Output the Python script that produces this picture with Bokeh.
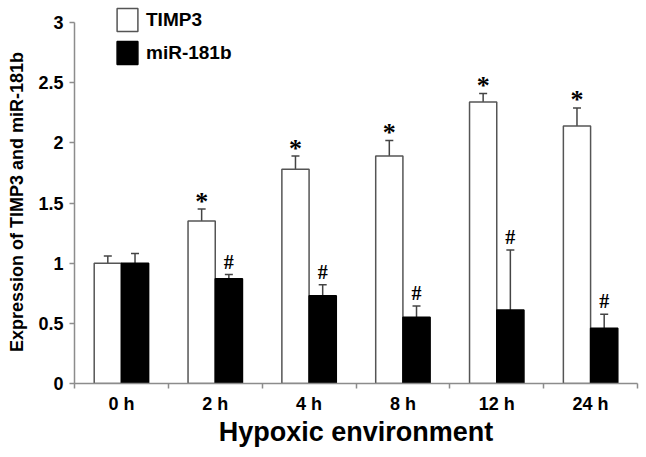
from bokeh.plotting import figure
from bokeh.models import Range1d, FixedTicker, Whisker, TeeHead, ColumnDataSource, Legend, LegendItem
from bokeh.embed import file_html
from bokeh.resources import INLINE

categories = ["0 h", "2 h", "4 h", "8 h", "12 h", "24 h"]
timp3 = [1.00, 1.35, 1.78, 1.89, 2.34, 2.14]
timp3_err = [0.06, 0.10, 0.11, 0.13, 0.07, 0.15]
mir = [1.00, 0.87, 0.73, 0.55, 0.61, 0.46]
mir_err = [0.08, 0.035, 0.09, 0.095, 0.50, 0.115]
timp3_marks = ["", "*", "*", "*", "*", "*"]
mir_marks = ["", "#", "#", "#", "#", "#"]
y_ticks = [0, 0.5, 1, 1.5, 2, 2.5, 3]
y_tick_labels = ["0", "0.5", "1", "1.5", "2", "2.5", "3"]
y_title = "Expression of TIMP3 and miR-181b"
x_title = "Hypoxic environment"

FONT = "Liberation Sans"
BAR_W = 0.29
idx = list(range(len(categories)))
x_t = [i + 0.5 - BAR_W / 2 for i in idx]
x_m = [i + 0.5 + BAR_W / 2 for i in idx]

src_t = ColumnDataSource(dict(x=x_t, top=timp3, up=[v + e for v, e in zip(timp3, timp3_err)], mark=timp3_marks))
src_m = ColumnDataSource(dict(x=x_m, top=mir, up=[v + e for v, e in zip(mir, mir_err)], mark=mir_marks))

# y range extends slightly above 3 so the legend sits inside the frame; the axis line stops at 3
p = figure(width=646, height=457, output_backend="svg", toolbar_location=None, title=None,
           x_range=Range1d(0, len(categories)), y_range=Range1d(0, 3.183),
           min_border_left=74, min_border_right=9, min_border_top=0, min_border_bottom=74)
p.outline_line_color = None
p.xgrid.visible = False
p.ygrid.visible = False

r_t = p.vbar(x="x", top="top", width=BAR_W, source=src_t, fill_color="white",
             line_color="#555555", line_width=1.5)
r_m = p.vbar(x="x", top="top", width=BAR_W, source=src_m, fill_color="black",
             line_color="black", line_width=1.5)

for src in (src_t, src_m):
    w = Whisker(base="x", lower="top", upper="up", source=src, line_color="#444444", line_width=1.5,
                upper_head=TeeHead(size=8, line_color="#444444", line_width=1.5), lower_head=None)
    p.add_layout(w)

p.text(x="x", y="up", text="mark", source=src_t, text_align="center", text_baseline="alphabetic",
       y_offset=-8, text_font=FONT, text_font_style="bold", text_font_size="26px", text_color="black")
p.text(x="x", y="up", text="mark", source=src_m, text_align="center", text_baseline="alphabetic",
       y_offset=-13, text_font=FONT, text_font_style="bold", text_font_size="20px", text_color="black")

# x axis
xa = p.xaxis[0]
xa.ticker = FixedTicker(ticks=[i + 0.5 for i in idx], minor_ticks=list(range(len(categories) + 1)))
xa.major_label_overrides = {i + 0.5: c for i, c in zip(idx, categories)}
xa.major_tick_out = 0
xa.major_tick_in = 0
xa.minor_tick_out = 5
xa.minor_tick_in = 0
xa.minor_tick_line_color = "#8c8c8c"
xa.minor_tick_line_width = 1.5
xa.axis_line_color = "#8c8c8c"
xa.axis_line_width = 1.5
xa.major_label_text_font = FONT
xa.major_label_text_font_style = "bold"
xa.major_label_text_font_size = "18px"
xa.major_label_text_color = "black"
xa.major_label_standoff = 5
xa.axis_label = x_title
xa.axis_label_text_font = FONT
xa.axis_label_text_font_style = "bold"
xa.axis_label_text_font_size = "27px"
xa.axis_label_text_color = "black"
xa.axis_label_standoff = 0

# y axis
ya = p.yaxis[0]
ya.bounds = (y_ticks[0], y_ticks[-1])
ya.ticker = FixedTicker(ticks=y_ticks, minor_ticks=[])
ya.major_label_overrides = {t: l for t, l in zip(y_ticks, y_tick_labels)}
ya.major_tick_out = 5
ya.major_tick_in = 0
ya.major_tick_line_color = "#8c8c8c"
ya.major_tick_line_width = 1.5
ya.axis_line_color = "#8c8c8c"
ya.axis_line_width = 1.5
ya.major_label_text_font = FONT
ya.major_label_text_font_style = "bold"
ya.major_label_text_font_size = "18px"
ya.major_label_text_color = "black"
ya.major_label_standoff = 6
# trailing no-break spaces centre the title on the 0..3 span rather than on the taller frame
ya.axis_label = y_title + "\u00a0" * 4
ya.axis_label_text_font = FONT
ya.axis_label_text_font_style = "bold"
ya.axis_label_text_font_size = "18px"
ya.axis_label_text_color = "black"
ya.axis_label_standoff = 8

legend = Legend(items=[LegendItem(label="TIMP3", renderers=[r_t]),
                       LegendItem(label="miR-181b", renderers=[r_m])],
                location=(40, 316), orientation="vertical",
                glyph_width=26, glyph_height=29, label_standoff=6, spacing=4,
                padding=0, margin=0, border_line_alpha=0, background_fill_alpha=0,
                label_text_font=FONT, label_text_font_style="bold", label_text_font_size="19px",
                label_text_color="black", label_height=29)
p.add_layout(legend, "center")

open("out.html", "w").write(file_html(p, INLINE))
